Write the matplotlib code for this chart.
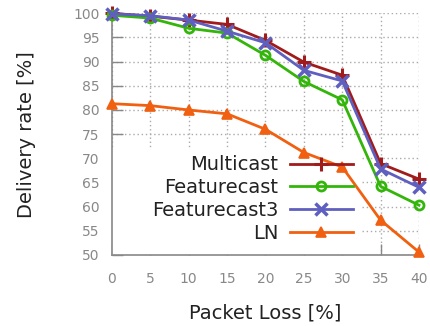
import matplotlib
matplotlib.use("Agg")
import matplotlib.pyplot as plt
from matplotlib.patches import Rectangle

packet_loss = [0, 5, 10, 15, 20, 25, 30, 35, 40]
multicast = [100.0, 99.4, 98.6, 97.7, 94.4, 89.9, 87.2, 68.9, 65.7]
featurecast = [99.6, 99.0, 96.9, 95.9, 91.3, 85.9, 82.1, 64.2, 60.3]
featurecast3 = [99.9, 99.5, 98.6, 96.3, 93.9, 88.2, 86.0, 67.8, 64.0]
ln = [81.3, 80.9, 80.0, 79.2, 76.0, 71.2, 68.2, 57.2, 50.6]

x_ticks = [0, 5, 10, 15, 20, 25, 30, 35, 40]
y_ticks = [50, 55, 60, 65, 70, 75, 80, 85, 90, 95, 100]

plt.rcParams["font.family"] = ["DejaVu Sans"]

fig = plt.figure(figsize=(4.31, 3.26), dpi=100)
ax = fig.add_axes([112 / 431, 1 - 255 / 326, 307 / 431, (255 - 13.3) / 326])

gray = "#888888"
ax.set_xlim(0, 40)
ax.set_ylim(50, 100)
ax.set_xticks(x_ticks)
ax.set_yticks(y_ticks)
ax.tick_params(axis="both", direction="in", length=8, width=1, color=gray,
               labelcolor=gray, labelsize=10)
ax.tick_params(axis="y", pad=9)
ax.tick_params(axis="x", pad=12)
for side in ("top", "right"):
    ax.spines[side].set_visible(False)
for side in ("left", "bottom"):
    ax.spines[side].set_color(gray)
    ax.spines[side].set_linewidth(1.2)

ax.set_axisbelow(True)
ax.grid(True, color="#aaaaaa", linestyle=(0, (1, 2)), linewidth=1)

# opaque backdrop behind the key so the grid does not show through it
ax.add_patch(Rectangle((0, 0), 0.808, 0.434, transform=ax.transAxes,
                       facecolor="white", edgecolor="none", zorder=1))

series = [
    ("Multicast", multicast, "#a01c1c", "+", 10.5, 2.2),
    ("Featurecast", featurecast, "#33b50a", "o", 6.5, 2.0),
    ("Featurecast3", featurecast3, "#5f5fbf", "x", 8, 2.5),
    ("LN", ln, "#f06010", "^", 7.5, 1.2),
]
for name, vals, color, marker, ms, mew in series:
    kw = dict(markerfacecolor="none") if marker == "o" else {}
    ax.plot(packet_loss, vals, color=color, linewidth=2, marker=marker,
            markersize=ms, markeredgewidth=mew, label=name, clip_on=False,
            zorder=3, **kw)

leg = ax.legend(loc="center right", bbox_to_anchor=(0.785, 0.231),
                frameon=False, markerfirst=False, fontsize=14,
                handlelength=3.25, handletextpad=0.6, labelspacing=0.2,
                borderpad=0, borderaxespad=0)
for t in leg.get_texts():
    t.set_color("#222222")

ax.set_xlabel("Packet Loss [%]", fontsize=14, color="#222222", labelpad=13)
ax.set_ylabel("Delivery rate [%]", fontsize=14, color="#222222", labelpad=27)

fig.savefig("out.png", dpi=100)
